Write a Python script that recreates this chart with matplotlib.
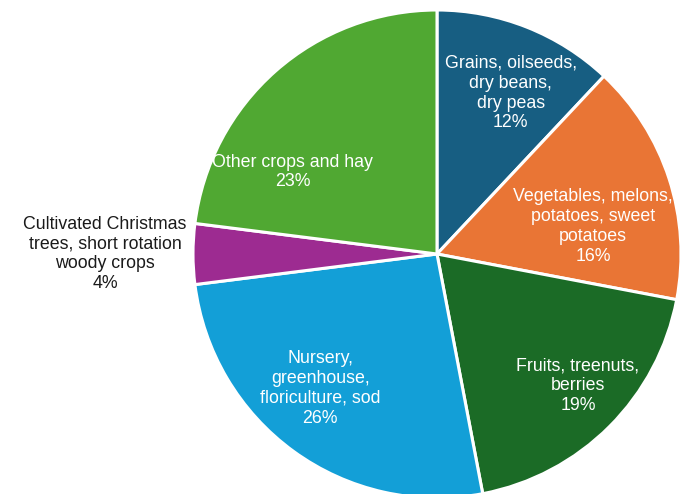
import numpy as np
import matplotlib
matplotlib.use("Agg")
from matplotlib import pyplot as plt

plt.rcParams['font.family'] = ['Liberation Sans', 'DejaVu Sans']

# slices, clockwise from 12 o'clock
labels = ["Grains, oilseeds,\ndry beans,\ndry peas",
          "Vegetables, melons,\npotatoes, sweet\npotatoes",
          "Fruits, treenuts,\nberries",
          "Nursery,\ngreenhouse,\nfloriculture, sod",
          "Cultivated Christmas\ntrees, short rotation\nwoody crops",
          "Other crops and hay"]
shares = [12, 16, 19, 26, 4, 23]
colors = ['#175e82', '#e97535', '#1b6b26', '#139fd7', '#9d2b91', '#50a832']

# label placement: radius (x pie radius) and clockwise nudge in degrees
lab_r = [0.725, 0.65, 0.79, 0.73, 1.36, 0.68]
lab_shift = [3, 8, -2, 5, 0, -19]
lab_color = ['white', 'white', 'white', 'white', '#1a1a1a', 'white']

fig = plt.figure(figsize=(6.8, 4.94), dpi=100)
ax = fig.add_axes([0, 0, 1, 1])

wedges, _ = ax.pie(shares, colors=colors, startangle=90, counterclock=False,
                   wedgeprops=dict(edgecolor='white', linewidth=2.2))

for w, lab, s, r, d, c in zip(wedges, labels, shares, lab_r, lab_shift, lab_color):
    mid = np.deg2rad((w.theta1 + w.theta2) / 2 - d)
    ax.text(r * np.cos(mid), r * np.sin(mid), "%s\n%d%%" % (lab, s),
            ha='center', va='center', fontsize=12.8, color=c, linespacing=1.22)

R = 244.0
ax.set_xlim(-437 / R, (680 - 437) / R)
ax.set_ylim(-(494 - 254) / R, 254 / R)
ax.set_aspect('equal')
ax.axis('off')

fig.savefig('out.png', dpi=100)
